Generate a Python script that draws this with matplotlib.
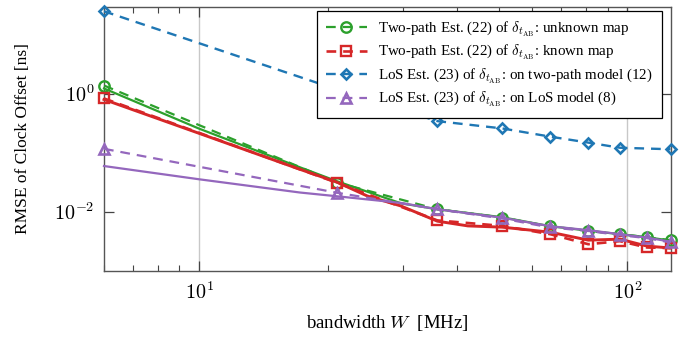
import matplotlib
matplotlib.use('Agg')
import matplotlib.pyplot as plt
from matplotlib.ticker import LogLocator, NullFormatter, NullLocator, FixedLocator, FuncFormatter
import numpy as np

plt.rcParams['font.family'] = ['Liberation Serif', 'DejaVu Serif']
plt.rcParams['mathtext.fontset'] = 'cm'
plt.rcParams['lines.scale_dashes'] = False

# ---- data ----
bandwidth = [6, 21, 36, 51, 66, 81, 96, 111, 126]
twopath_unknown = [1.38, 0.0314, 0.0111, 0.00804, 0.00567, 0.00477, 0.0042, 0.00374, 0.00333]
twopath_known = [0.833, 0.0311, 0.00718, 0.0058, 0.0042, 0.00284, 0.0032, 0.0025, 0.00244]
los_on_los = [0.117, 0.0211, 0.0111, 0.00774, 0.00545, 0.00477, 0.00404, 0.0036, 0.00304]

bandwidth_blue = [6, 21, 36, 51, 66, 81, 96, 126]
los_on_twopath = [24.9, 1.18, 0.344, 0.259, 0.188, 0.149, 0.122, 0.115]

# solid (unlabelled) curves
bw_known_bound = [6, 10, 17.2, 21, 24.7, 29.6, 36, 42.4, 51, 66, 81, 96, 111, 126]
known_bound = [0.80, 0.214, 0.0526, 0.0318, 0.0186, 0.0126, 0.00697, 0.0058, 0.00552,
               0.00454, 0.00333, 0.00346, 0.00264, 0.00245]
bw_bound = [6, 10, 17.2, 21, 29.6, 36, 51, 66, 81, 96, 111, 126]
unknown_bound = [1.23, 0.257, 0.0569, 0.033, 0.014, 0.0111, 0.00813, 0.00573, 0.00481,
                 0.0042, 0.00374, 0.00326]
los_bound = [0.0598, 0.0357, 0.0213, 0.0184, 0.0142, 0.0111, 0.00798, 0.00573, 0.00491,
             0.0042, 0.00367, 0.00314]

labels = [r'Two-path Est. (22) of $\delta_{t_{\rm AB}}$: unknown map',
          r'Two-path Est. (22) of $\delta_{t_{\rm AB}}$: known map',
          r'LoS Est. (23) of $\delta_{t_{\rm AB}}$: on two-path model (12)',
          r'LoS Est. (23) of $\delta_{t_{\rm AB}}$: on LoS model (8)']

GREEN = '#2ca02c'
RED = '#d62728'
BLUE = '#1f77b4'
PURPLE = '#9467bd'
DASH = (7, 5)

fig = plt.figure(figsize=(6.88, 3.39), dpi=100)
ax = fig.add_axes([104/688, (339-271)/339, (670.5-104)/688, (271-6.5)/339])
ax.set_xscale('log')
ax.set_yscale('log')

ax.plot(bandwidth, twopath_unknown, color=GREEN, lw=1.6, dashes=DASH, marker='o', ms=7.5,
        mfc='none', mew=1.7, label=labels[0], clip_on=False, zorder=3)
ax.plot(bw_bound, unknown_bound, color=GREEN, lw=1.6, clip_on=False, zorder=3)
ax.plot(bandwidth, twopath_known, color=RED, lw=1.9, dashes=DASH, marker='s', ms=7,
        mfc='none', mew=1.7, label=labels[1], clip_on=False, zorder=3)
ax.plot(bw_known_bound, known_bound, color=RED, lw=2.1, clip_on=False, zorder=3)
ax.plot(bandwidth_blue, los_on_twopath, color=BLUE, lw=1.7, dashes=DASH, marker='D', ms=5.5,
        mfc='none', mew=1.9, label=labels[2], clip_on=False, zorder=3)
ax.plot(bandwidth, los_on_los, color=PURPLE, lw=1.6, dashes=DASH, marker='^', ms=7.5,
        mfc='none', mew=1.9, label=labels[3], clip_on=False, zorder=3)
ax.plot(bw_bound, los_bound, color=PURPLE, lw=1.6, clip_on=False, zorder=3)

ax.set_xlim(6, 126)
ax.set_ylim(1e-3, 30)

def pow_fmt(v, pos):
    return r'$10^{%d}$' % int(round(np.log10(v)))

ax.yaxis.set_major_locator(FixedLocator([1e-2, 1e0]))
ax.yaxis.set_minor_locator(NullLocator())
ax.xaxis.set_major_locator(FixedLocator([10, 100]))
ax.xaxis.set_minor_locator(LogLocator(base=10, subs=range(2, 10)))
ax.xaxis.set_minor_formatter(NullFormatter())
ax.xaxis.set_major_formatter(FuncFormatter(pow_fmt))
ax.yaxis.set_major_formatter(FuncFormatter(pow_fmt))

ax.tick_params(which='both', direction='in', top=True, right=True, labelsize=14.5,
               color='#444444')
ax.tick_params(which='major', length=7.5, width=0.9, pad=7)
ax.tick_params(axis='x', which='major', pad=8.5)
ax.tick_params(which='minor', length=4.3, width=0.8)
ax.xaxis.grid(True, which='major', color='#c8c8c8', lw=1.0)
ax.set_axisbelow(True)
for sp in ax.spines.values():
    sp.set_color('#555555')
    sp.set_linewidth(1.0)

ax.set_xlabel(r'bandwidth $W$  [MHz]', fontsize=13.5)
ax.set_ylabel('RMSE of Clock Offset [ns]', fontsize=12.5)
ax.xaxis.set_label_coords(0.5, (271 - 313) / 264.5)
ax.yaxis.set_label_coords((31 - 104) / 566.5, 0.5)

handles, labs = ax.get_legend_handles_labels()
leg = ax.legend(handles, labs, loc='upper right', bbox_to_anchor=(0.9845, 0.9841),
                borderaxespad=0, fontsize=10.8, handlelength=2.7, handletextpad=0.78,
                labelspacing=0.27, borderpad=0.6, fancybox=False, framealpha=1,
                edgecolor='black', numpoints=1)
leg.get_frame().set_linewidth(0.9)
leg.set_zorder(5)

fig.savefig('out.png', dpi=100)
